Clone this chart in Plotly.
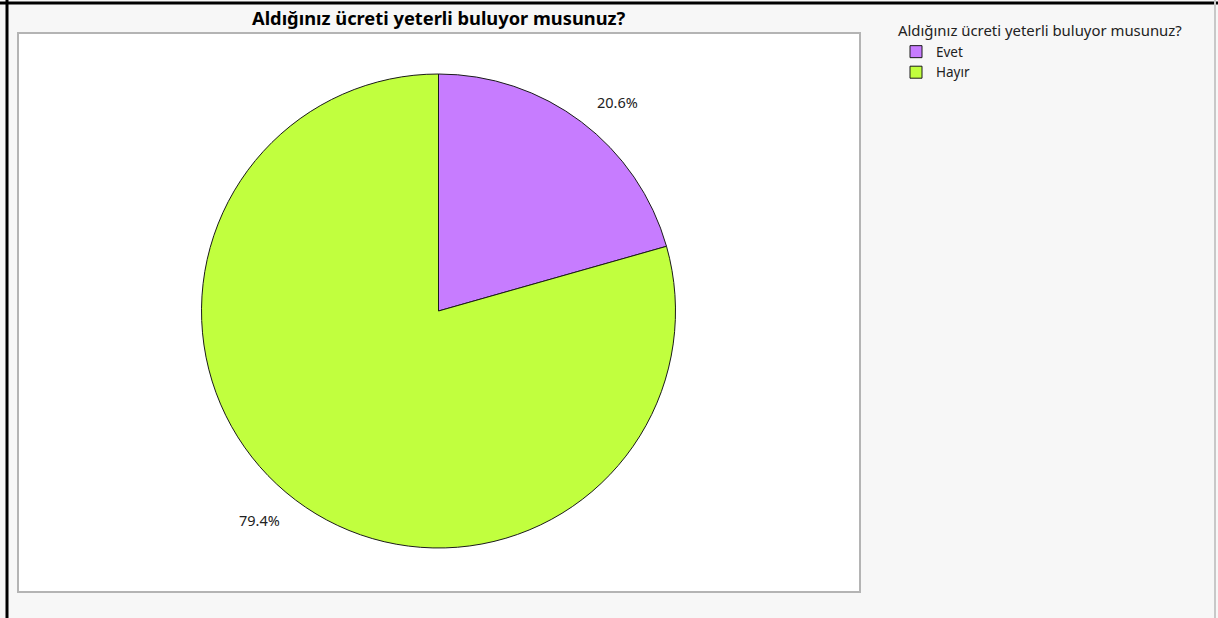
import math
import plotly.graph_objects as go

# ---- data ----
title_text = "Aldığınız ücreti yeterli buluyor musunuz?"
categories = ["Evet", "Hayır"]
percentages = [20.6, 79.4]
colors = ["#c77cff", "#c1ff3e"]

W, H = 1218, 618
FONT = "Noto Sans, Open Sans, sans-serif"

# pie geometry in pixels
cx, cy, R = 438.5, 311.0, 237.0

def px_x(x):
    return x / W

def px_y(y):
    return 1 - y / H

fig = go.Figure()
fig.add_trace(go.Pie(
    labels=categories,
    values=percentages,
    marker=dict(colors=colors, line=dict(color="#1a1a1a", width=1)),
    sort=False,
    direction="clockwise",
    rotation=0,
    textinfo="none",
    hoverinfo="label+percent",
    domain=dict(x=[px_x(cx - R), px_x(cx + R)], y=[px_y(cy + R), px_y(cy - R)]),
    showlegend=True,
))

# percentage labels placed outside the slices (derived from values)
total = sum(percentages)
start = 0.0
annotations = []
for cat, v in zip(categories, percentages):
    frac = v / total
    mid = (start + frac / 2) * 2 * math.pi + math.radians(3.5)
    start += frac
    r = R * 1.16
    lx = cx + r * math.sin(mid)
    ly = cy - r * math.cos(mid)
    annotations.append(dict(
        x=px_x(lx), y=px_y(ly), xref="paper", yref="paper",
        text=f"{v:.1f}%", showarrow=False,
        font=dict(family=FONT, size=14.5, color="#222222"),
        xanchor="center", yanchor="middle",
    ))

annotations.append(dict(
    x=px_x(439), y=px_y(18), xref="paper", yref="paper",
    text=f"<b>{title_text}</b>", showarrow=False,
    font=dict(family=FONT, size=18.3, color="#000000"),
    xanchor="center", yanchor="middle",
))

shapes = [
    # plot box
    dict(type="rect", xref="paper", yref="paper",
         x0=px_x(18), x1=px_x(860), y0=px_y(592), y1=px_y(33),
         fillcolor="white", line=dict(color="#b4b4b4", width=2), layer="below"),
    # outer frame lines
    dict(type="line", xref="paper", yref="paper",
         x0=px_x(0), x1=px_x(W), y0=px_y(3), y1=px_y(3),
         line=dict(color="#000000", width=3)),
    dict(type="line", xref="paper", yref="paper",
         x0=px_x(7), x1=px_x(7), y0=px_y(0), y1=px_y(H),
         line=dict(color="#000000", width=3)),
    dict(type="line", xref="paper", yref="paper",
         x0=px_x(1215), x1=px_x(1215), y0=px_y(0), y1=px_y(H),
         line=dict(color="#c8c8c8", width=2)),
]

fig.update_layout(
    width=W, height=H,
    margin=dict(l=0, r=0, t=0, b=0),
    paper_bgcolor="#f7f7f7",
    plot_bgcolor="#f7f7f7",
    font=dict(family=FONT, size=13.5, color="#222222"),
    annotations=annotations,
    shapes=shapes,
    legend=dict(
        title=dict(text=title_text, font=dict(family=FONT, size=14.9, color="#222222")),
        x=px_x(896), y=px_y(17), xanchor="left", yanchor="top",
        bgcolor="rgba(0,0,0,0)",
        font=dict(family=FONT, size=13.5, color="#222222"),
        itemwidth=30,
        tracegroupgap=0,
    ),
)

fig.write_html(
    "out.html",
    config={"displayModeBar": False},
    post_script="document.body.style.margin='0';document.body.style.overflow='hidden';",
)
